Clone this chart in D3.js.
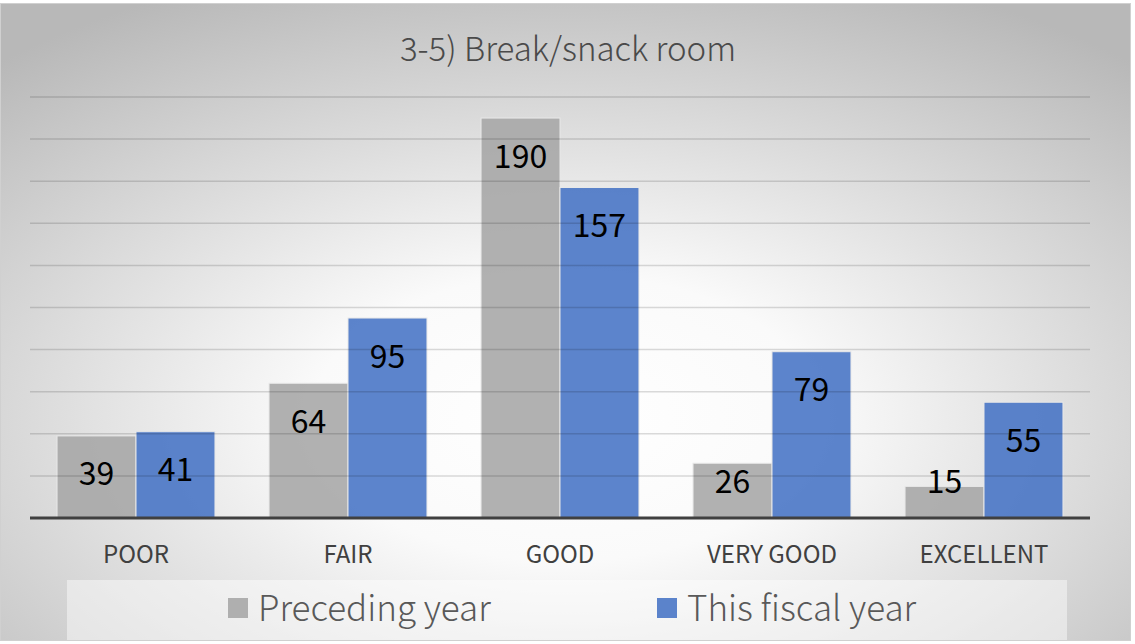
<!DOCTYPE html>
<html>
<head>
<meta charset="utf-8">
<script src="https://cdn.jsdelivr.net/npm/d3@7"></script>
<style>
  body { margin: 0; background: #fff; }
  text { font-family: "Noto Sans CJK JP", "Noto Sans", sans-serif; }
</style>
</head>
<body>
<div id="chart"></div>
<script>
const categories = ["POOR", "FAIR", "GOOD", "VERY GOOD", "EXCELLENT"]
const seriesNames = ["Preceding year", "This fiscal year"]
const preceding = [39, 64, 190, 26, 15]
const thisYear = [41, 95, 157, 79, 55]
const gridTicks = [20, 40, 60, 80, 100, 120, 140, 160, 180, 200]
const colors = ["#a5a5a5", "#4472c4"]

var width = 1135, height = 644
const svg = d3.select('#chart').append("svg").attr("width", width).attr("height", height)

// background gradient
const defs = svg.append("defs")
const grad = defs.append("radialGradient").attr("id", "bg")
    .attr("cx", "50%").attr("cy", "65%").attr("r", "75%")
    .attr("gradientUnits", "objectBoundingBox")
grad.append("stop").attr("offset", "0%").attr("stop-color", "#ffffff")
grad.append("stop").attr("offset", "30%").attr("stop-color", "#fafafa")
grad.append("stop").attr("offset", "100%").attr("stop-color", "#b8b8b8")

svg.append("rect").attr("x", 0.5).attr("y", 3.5).attr("width", 1130).attr("height", 637)
    .attr("fill", "url(#bg)").attr("stroke", "#d0d0d0")

svg.append("text").attr("x", 568).attr("y", 61).attr("text-anchor", "middle")
    .attr("font-size", 33).attr("font-weight", 300).attr("fill", "#4a4a4a")
    .text("3-5) Break/snack room")

const plotLeft = 30, plotRight = 1090, plotTop = 97, plotBottom = 518
const x = d3.scaleBand().domain(categories).range([plotLeft, plotRight]).paddingInner(0.255).paddingOuter(0.1275)
const x1 = d3.scaleBand().domain(seriesNames).range([0, x.bandwidth()])
const y = d3.scaleLinear().domain([0, 200]).range([plotBottom, plotTop])

const rows = categories.map((c, i) => ({cat: c, vals: [preceding[i], thisYear[i]]}))

const groups = svg.selectAll('g.cat')
    .data(rows).enter()
    .append('g')
    .attr("class", "cat")
    .attr("transform", d => `translate(${x(d.cat)},0)`)

groups.selectAll('rect')
    .data(d => d.vals.map((v, j) => ({v: v, s: seriesNames[j], j: j})))
    .enter().append('rect')
    .attr("x", d => x1(d.s))
    .attr("y", d => y(d.v))
    .attr("width", x1.bandwidth())
    .attr("height", d => plotBottom - y(d.v))
    .attr("fill", d => colors[d.j])
    .attr("fill-opacity", 0.87)
    .attr("stroke", "#e8e8e8")
    .attr("stroke-width", 1)

// gridlines drawn over the bars, semi transparent
svg.append("g").selectAll("line")
    .data(gridTicks).enter().append("line")
    .attr("x1", plotLeft).attr("x2", plotRight)
    .attr("y1", d => y(d)).attr("y2", d => y(d))
    .attr("stroke", "#000").attr("stroke-opacity", 0.14).attr("stroke-width", 1.5)

// value labels
groups.selectAll('text.val')
    .data(d => d.vals.map((v, j) => ({v: v, s: seriesNames[j]})))
    .enter().append('text')
    .attr("class", "val")
    .attr("x", d => x1(d.s) + x1.bandwidth() / 2)
    .attr("y", d => Math.min(y(d.v) + 38, 481))
    .attr("dy", "0.36em")
    .attr("text-anchor", "middle")
    .attr("font-size", 32)
    .attr("fill", "#000")
    .text(d => d.v)

// baseline
svg.append("line").attr("x1", plotLeft).attr("x2", plotRight).attr("y1", plotBottom).attr("y2", plotBottom)
    .attr("stroke", "#404040").attr("stroke-width", 3)

// category axis
const xAxis = svg.append("g").attr("transform", `translate(0,${plotBottom})`)
    .call(d3.axisBottom(x).tickSize(0).tickPadding(28))
xAxis.select(".domain").remove()
xAxis.selectAll("text").attr("font-size", 24).attr("fill", "#404040")
    .attr("font-family", "'Noto Sans CJK JP', 'Noto Sans', sans-serif")

// legend
svg.append("rect").attr("x", 67).attr("y", 580).attr("width", 1000).attr("height", 60)
    .attr("fill", "#ffffff").attr("fill-opacity", 0.45)
const legendX = [228, 657]
const lg = svg.selectAll("g.leg").data(seriesNames).enter().append("g").attr("class", "leg")
    .attr("transform", (d, i) => `translate(${legendX[i]},598)`)
lg.append("rect").attr("width", 20).attr("height", 20)
    .attr("fill", (d, i) => colors[i]).attr("fill-opacity", 0.87)
lg.append("text").attr("x", 30).attr("y", 10).attr("dy", "0.36em")
    .attr("font-size", 35).attr("font-weight", 300).attr("fill", "#595959")
    .text(d => d)
</script>
</body>
</html>
